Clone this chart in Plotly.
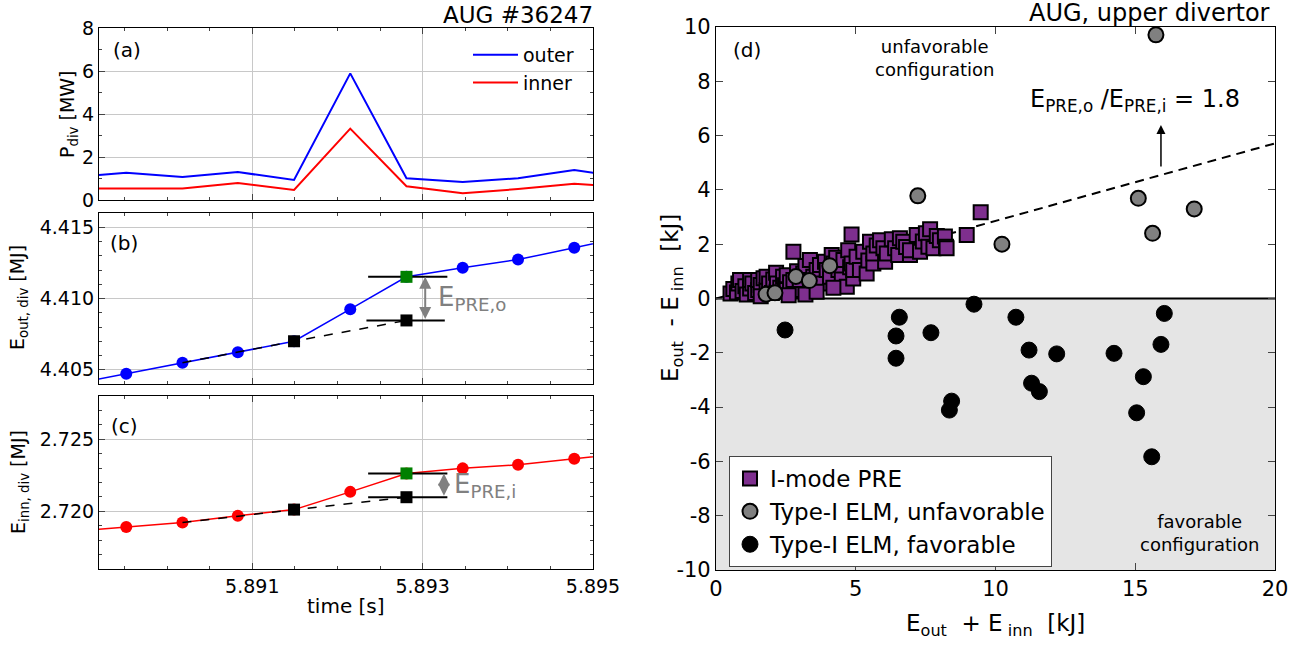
import plotly.graph_objects as go

# ---------------- data: left panels (AUG #36247) ----------------
T = [5.88886, 5.88952, 5.89018, 5.89083, 5.89149, 5.89215, 5.89281, 5.89347, 5.89412, 5.89478, 5.89544]
P_OUTER = [1.04, 1.27, 1.07, 1.30, 0.93, 5.89, 1.01, 0.84, 1.01, 1.40, 1.00]
P_INNER = [0.54, 0.54, 0.54, 0.79, 0.47, 3.32, 0.64, 0.31, 0.51, 0.76, 0.575]
E_OUT = [4.40395, 4.40472, 4.40549, 4.40623, 4.40700, 4.40925, 4.41152, 4.41215, 4.41273, 4.41356, 4.41439]
E_INN = [2.71859, 2.71891, 2.71923, 2.71970, 2.72012, 2.72135, 2.72263, 2.72298, 2.72323, 2.72365, 2.72407]
I_START = 4          # pre-event sample (black square)
I_END = 6            # post-event sample (green square)
I_FIT = 2            # first sample of the linear extrapolation
E_OUT_EXTRAP = 4.40846
E_INN_EXTRAP = 2.72098
HBAR_OUT_T = [5.89236, 5.89329]
HBAR_OUT_LOW_T = [5.89234, 5.89326]
HBAR_INN_T = [5.89236, 5.89329]
ARROW_OUT_T = 5.89303
ARROW_INN_T = 5.89325
LABEL_OUT_T = 5.89316
LABEL_INN_T = 5.89335

# ---------------- data: right panel (AUG, upper divertor) ----------------
IMODE_X = [0.52, 0.62, 0.75, 0.80, 0.86, 0.95, 1.05, 1.10, 1.22, 1.22, 1.30, 1.40, 1.51, 1.51, 1.60, 1.70,
           1.81, 1.81, 1.90, 2.00, 2.05, 2.15, 2.17, 2.18, 2.30, 2.40, 2.47, 2.53, 2.53, 2.65, 2.77, 2.77,
           2.90, 3.00, 3.00, 3.12, 3.20, 3.36, 3.36, 3.48, 3.60, 3.72, 3.80, 3.90, 3.96, 4.08, 4.14, 4.20,
           4.30, 4.38, 4.50, 4.56, 4.68, 4.73, 4.80, 4.85, 4.85, 4.91, 4.91, 5.03, 5.15, 5.27, 5.39, 5.45,
           5.51, 5.63, 5.63, 5.75, 5.87, 5.99, 6.05, 6.11, 6.29, 6.41, 6.52, 6.58, 6.70, 6.80, 6.94, 6.94,
           7.18, 7.30, 7.40, 7.51, 7.60, 7.66, 7.78, 7.90, 8.01, 8.19, 8.23, 8.25, 8.97, 9.47,
           1.60, 2.60, 3.20, 3.60, 4.20]
IMODE_Y = [0.18, 0.35, 0.22, 0.55, 0.68, 0.28, 0.45, 0.15, 0.37, 0.68, 0.55, 0.20, 0.31, 0.68, 0.50, 0.75,
           0.31, 0.80, 0.55, 0.20, 0.70, 0.95, 0.25, 0.55, 0.40, 0.80, 0.49, 0.86, 0.31, 0.60, 1.72, 0.68,
           1.00, 0.31, 0.68, 0.92, 1.20, 0.43, 1.42, 0.80, 1.05, 1.23, 0.55, 1.35, 1.05, 0.80, 1.60, 1.29,
           1.50, 1.05, 0.70, 1.42, 0.43, 1.78, 1.15, 2.36, 1.29, 0.74, 1.05, 1.54, 1.05, 1.72, 0.92, 1.40,
           2.09, 1.29, 1.66, 1.95, 2.15, 1.85, 1.35, 1.66, 2.18, 1.85, 1.60, 2.22, 2.09, 1.90, 1.60, 1.78,
           2.34, 1.72, 2.10, 2.40, 1.91, 2.55, 1.85, 2.30, 2.15, 2.28, 1.91, 1.85, 2.34, 3.18,
           0.08, 0.12, 0.15, 0.25, 0.40]
UNFAV_X = [1.79, 2.11, 2.86, 3.34, 4.07, 7.22, 10.23, 15.11, 15.62, 17.11, 15.74]
UNFAV_Y = [0.16, 0.21, 0.81, 0.66, 1.21, 3.78, 2.00, 3.69, 2.40, 3.30, 9.71]
FAV_X = [2.47, 6.56, 6.44, 6.44, 7.69, 8.43, 8.35, 9.23, 10.73, 11.20, 11.29, 11.57, 12.19, 14.24,
         15.05, 15.29, 15.59, 15.92, 16.04]
FAV_Y = [-1.16, -0.69, -1.38, -2.20, -1.26, -3.78, -4.11, -0.21, -0.69, -1.90, -3.12, -3.43, -2.04, -2.02,
         -4.21, -2.88, -5.83, -1.69, -0.55]
RATIO = 1.8
LINE_X = [0, 20]
D_XTICKS = [0, 5, 10, 15, 20]
D_YTICKS = [-10, -8, -6, -4, -2, 0, 2, 4, 6, 8, 10]

LF = "DejaVu Sans"
RF = "DejaVu Sans"
BLUE, RED, GREEN, PURPLE, GRAY = "#0000ff", "#ff0000", "#008000", "#7e2f8e", "#808080"

W, H = 1302, 649


def px(xp):
    return xp / W


def py(yp):
    return 1 - yp / H


fig = go.Figure()

# panel (a)
fig.add_trace(go.Scatter(x=T, y=P_OUTER, mode="lines", line=dict(color=BLUE, width=2), name="outer",
                         xaxis="x", yaxis="y", legend="legend"))
fig.add_trace(go.Scatter(x=T, y=P_INNER, mode="lines", line=dict(color=RED, width=2), name="inner",
                         xaxis="x", yaxis="y", legend="legend"))


def energy_panel(E, extrap, color, xa, ya, hb_top, hb_low):
    fig.add_trace(go.Scatter(x=T, y=E, mode="lines+markers", line=dict(color=color, width=1.5),
                             marker=dict(color=color, size=12), showlegend=False, xaxis=xa, yaxis=ya))
    fig.add_trace(go.Scatter(x=[T[I_FIT], T[I_START], T[I_END]], y=[E[I_FIT], E[I_START], extrap],
                             mode="lines", line=dict(color="black", width=1.5, dash="dash"),
                             showlegend=False, xaxis=xa, yaxis=ya))
    fig.add_trace(go.Scatter(x=hb_top, y=[E[I_END]] * 2, mode="lines", line=dict(color="black", width=2),
                             showlegend=False, xaxis=xa, yaxis=ya))
    fig.add_trace(go.Scatter(x=hb_low, y=[extrap] * 2, mode="lines", line=dict(color="black", width=2),
                             showlegend=False, xaxis=xa, yaxis=ya))
    fig.add_trace(go.Scatter(x=[T[I_START], T[I_END]], y=[E[I_START], extrap], mode="markers",
                             marker=dict(color="black", size=12, symbol="square"),
                             showlegend=False, xaxis=xa, yaxis=ya))
    fig.add_trace(go.Scatter(x=[T[I_END]], y=[E[I_END]], mode="markers",
                             marker=dict(color=GREEN, size=12, symbol="square"),
                             showlegend=False, xaxis=xa, yaxis=ya))


energy_panel(E_OUT, E_OUT_EXTRAP, BLUE, "x2", "y2", HBAR_OUT_T, HBAR_OUT_LOW_T)
energy_panel(E_INN, E_INN_EXTRAP, RED, "x3", "y3", HBAR_INN_T, HBAR_INN_T)

# panel (d)
fig.add_trace(go.Scatter(x=LINE_X, y=[v * (RATIO - 1) / (RATIO + 1) for v in LINE_X], mode="lines",
                         line=dict(color="black", width=2, dash="9px,6px"), showlegend=False,
                         xaxis="x4", yaxis="y4"))
fig.add_trace(go.Scatter(x=FAV_X, y=FAV_Y, mode="markers", name="Type-I ELM, favorable",
                         marker=dict(color="black", size=16, line=dict(color="black", width=1)),
                         xaxis="x4", yaxis="y4", legend="legend2", legendrank=3))
fig.add_trace(go.Scatter(x=IMODE_X, y=IMODE_Y, mode="markers", name="I-mode PRE",
                         marker=dict(color=PURPLE, size=14, symbol="square", line=dict(color="black", width=2)),
                         xaxis="x4", yaxis="y4", legend="legend2", legendrank=1))
fig.add_trace(go.Scatter(x=UNFAV_X, y=UNFAV_Y, mode="markers", name="Type-I ELM, unfavorable",
                         marker=dict(color=GRAY, size=15, line=dict(color="black", width=2)),
                         xaxis="x4", yaxis="y4", legend="legend2", legendrank=2))

# ---------------- axes ----------------
XR = [5.8892, 5.895]
left_x = dict(range=XR, tick0=5.891, dtick=0.002, tickformat=".3f", ticks="inside", ticklen=6,
              showline=True, linecolor="black", linewidth=1.2, mirror="ticks",
              showgrid=True, gridcolor="#c8c8c8", gridwidth=1, zeroline=False,
              minor=dict(ticks="inside", dtick=0.0005, tick0=5.891, ticklen=3, showgrid=False),
              tickfont=dict(family=LF, size=19, color="black"))
left_y = dict(ticks="inside", ticklen=6, showline=True, linecolor="black", linewidth=1.2, mirror="ticks",
              showgrid=True, gridcolor="#c8c8c8", gridwidth=1, zeroline=False,
              tickfont=dict(family=LF, size=19, color="black"))

fig.update_layout(
    width=W, height=H, margin=dict(l=0, r=0, t=0, b=0, autoexpand=False),
    plot_bgcolor="white", paper_bgcolor="white",
    xaxis=dict(left_x, domain=[px(99), px(593)], anchor="y", showticklabels=False),
    yaxis=dict(left_y, domain=[py(200), py(28)], anchor="x", range=[0, 8], dtick=2,
               minor=dict(ticks="inside", dtick=1, ticklen=3)),
    xaxis2=dict(left_x, domain=[px(99), px(593)], anchor="y2", showticklabels=False, matches="x"),
    yaxis2=dict(left_y, domain=[py(384), py(213)], anchor="x2", range=[4.404, 4.416],
                tick0=4.405, dtick=0.005, tickformat=".3f",
                minor=dict(ticks="inside", dtick=0.001, ticklen=3)),
    xaxis3=dict(left_x, domain=[px(99), px(593)], anchor="y3", matches="x"),
    yaxis3=dict(left_y, domain=[py(569), py(396)], anchor="x3", range=[2.716, 2.728],
                tick0=2.720, dtick=0.005, tickformat=".3f",
                minor=dict(ticks="inside", dtick=0.001, ticklen=3)),
    xaxis4=dict(domain=[px(716), px(1275)], anchor="y4", range=[0, 20], tickvals=D_XTICKS,
                ticktext=[str(v) for v in D_XTICKS], ticks="inside", ticklen=7, showline=True,
                linecolor="black", linewidth=1.2, mirror="ticks", showgrid=False, zeroline=False,
                tickfont=dict(family=RF, size=21, color="black")),
    yaxis4=dict(domain=[py(570), py(27)], anchor="x4", range=[-10, 10], tickvals=D_YTICKS,
                ticktext=[str(v) for v in D_YTICKS], ticks="inside", ticklen=7, showline=True,
                linecolor="black", linewidth=1.2, mirror="ticks", showgrid=False, zeroline=False,
                tickfont=dict(family=RF, size=21, color="black")),
    legend=dict(x=px(468), y=py(36), xanchor="left", yanchor="top", bgcolor="rgba(0,0,0,0)",
                font=dict(family=LF, size=19, color="black"), itemwidth=45),
    legend2=dict(x=px(729), y=py(456), xanchor="left", yanchor="top", bgcolor="white",
                 bordercolor="#444", borderwidth=1, font=dict(family=RF, size=23, color="black"),
                 traceorder="normal", itemwidth=30),
)

# background and zero line in panel (d)
fig.add_shape(type="rect", xref="x4", yref="y4", x0=0, x1=20, y0=-10, y1=0,
              fillcolor="#e5e5e5", line=dict(width=0), layer="below")
fig.add_shape(type="line", xref="x4", yref="y4", x0=0, x1=20, y0=0, y1=0,
              line=dict(color="black", width=2), layer="below")

ann = []


def text(x, y, s, xref="paper", yref="paper", size=19, fam=LF, color="black", xanchor="center",
         angle=0, yanchor="middle"):
    ann.append(dict(x=x, y=y, xref=xref, yref=yref, text=s, showarrow=False, xanchor=xanchor,
                    yanchor=yanchor, textangle=angle, font=dict(family=fam, size=size, color=color)))


text(px(595), py(15), "AUG #36247", size=23, xanchor="right")
text(px(1272), py(13), "AUG, upper divertor", fam=RF, size=24, xanchor="right")
text(px(127), py(50), "(a)", size=20)
text(px(124), py(243), "(b)", size=20)
text(px(124), py(426), "(c)", size=20)
text(px(68), py(114), "P<sub>div</sub> [MW]", size=19, angle=-90)
text(px(19), py(298), "E<sub>out, div</sub> [MJ]", size=19, angle=-90)
text(px(19), py(482), "E<sub>inn, div</sub> [MJ]", size=19, angle=-90)
text(px(346), py(606), "time [s]", size=20)
text(LABEL_OUT_T, (E_OUT[I_END] + E_OUT_EXTRAP) / 2, "E<sub>PRE,o</sub>", xref="x2", yref="y2",
     size=26, color=GRAY, xanchor="left")
text(LABEL_INN_T, (E_INN[I_END] + E_INN_EXTRAP) / 2, "E<sub>PRE,i</sub>", xref="x3", yref="y3",
     size=26, color=GRAY, xanchor="left")
text(1.1, 9.15, "(d)", xref="x4", yref="y4", fam=RF, size=20)
text(7.8, 8.86, "unfavorable<br>configuration", xref="x4", yref="y4", fam=RF, size=18)
text(17.3, -8.64, "favorable<br>configuration", xref="x4", yref="y4", fam=RF, size=18)
text(15.0, 7.3, "E<sub>PRE,o</sub> /E<sub>PRE,i</sub> = 1.8", xref="x4", yref="y4", fam=RF, size=24)
text(px(672), py(298), "E<sub>out</sub>  - E<sub> inn</sub>  [kJ]", fam=RF, size=23, angle=-90)
text(px(995), py(625), "E<sub>out</sub>  + E<sub> inn</sub>  [kJ]", fam=RF, size=23)

for t, top, low, xa, ya in [(ARROW_OUT_T, E_OUT[I_END], E_OUT_EXTRAP, "x2", "y2"),
                            (ARROW_INN_T, E_INN[I_END], E_INN_EXTRAP, "x3", "y3")]:
    ann.append(dict(x=t, y=top, ax=t, ay=low, xref=xa, yref=ya, axref=xa, ayref=ya, text="",
                    showarrow=True, arrowhead=2, startarrowhead=2, arrowside="end+start",
                    arrowsize=1.2, arrowwidth=2, arrowcolor=GRAY, standoff=0, startstandoff=0))
ann.append(dict(x=15.92, y=6.39, ax=15.92, ay=4.81, xref="x4", yref="y4", axref="x4", ayref="y4",
                text="", showarrow=True, arrowhead=2, arrowsize=1.2, arrowwidth=1.5, arrowcolor="black"))

fig.update_layout(annotations=ann)
fig.write_html("out.html")
